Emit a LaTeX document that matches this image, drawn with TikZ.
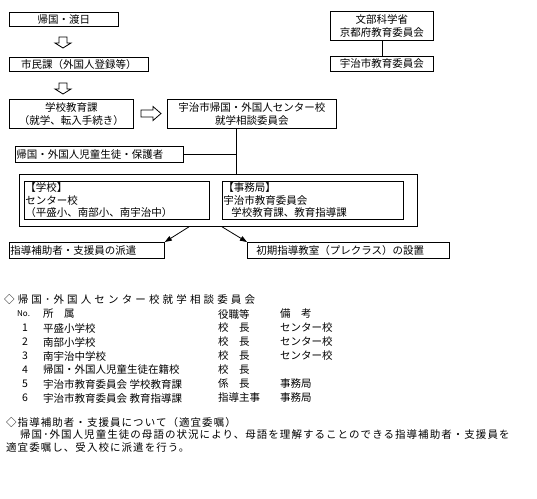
\documentclass[tikz,border=0pt]{standalone}
\usepackage{fontspec}
\setmainfont{Noto Sans CJK JP}
\newfontfamily\jpwide{Noto Sans CJK JP}[LetterSpace=30]
\newfontfamily\jpnote{Noto Sans CJK JP}[LetterSpace=10]
\usepackage{tikz}
\usetikzlibrary{positioning,arrows.meta,calc}
\tikzset{
  node-box/.style={draw,line width=0.8pt,anchor=north west,inner sep=1pt,
    align=center,font=\fontsize{10.5}{12.5}\selectfont},
  node-left/.style={node-box,align=left},
  node-frame/.style={draw,line width=0.8pt,anchor=north west,inner sep=0pt},
  cell/.style={inner sep=0pt,anchor=west,font=\fontsize{10.5}{12.5}\selectfont},
  arrow/.style={-{Triangle[length=7pt,width=5pt]},line width=0.8pt},
  link/.style={line width=0.8pt},
  hollow-arrow/.style={draw,line width=0.8pt,line join=miter},
}

\begin{document}
\begin{tikzpicture}[x=1pt,y=-1pt]
  \useasboundingbox (0,0) rectangle (537,498);
  % flow on the left
  \node[node-box,minimum width=109pt,minimum height=14pt] (b1) at (9,12) {帰国・渡日};
  \node[node-box,minimum width=139pt,minimum height=14pt] (b2) at (9,57) {市民課（外国人登録等）};
  \node[node-box,minimum width=124pt,minimum height=29pt] (b3) at (9,99) {学校教育課\\（就学、転入手続き）};
  \node[node-box,minimum width=169pt,minimum height=29pt] (b4) at (167,99) {宇治市帰国・外国人センター校\\就学相談委員会};
  \draw[hollow-arrow,shift={(63,37)}] (-4,0) -- (4,0) -- (4,6) -- (8,6) -- (0,11) -- (-8,6) -- (-4,6) -- cycle;
  \draw[hollow-arrow,shift={(63,83)}] (-4,0) -- (4,0) -- (4,6) -- (8,6) -- (0,11) -- (-8,6) -- (-4,6) -- cycle;
  \draw[hollow-arrow,shift={(141,113.5)}] (0,-3.5) -- (12,-3.5) -- (12,-7) -- (20,0) -- (12,7) -- (12,3.5) -- (0,3.5) -- cycle;
  % ministry side
  \node[node-box,minimum width=103pt,minimum height=29pt] (m1) at (330,11) {文部科学省\\京都府教育委員会};
  \node[node-box,minimum width=103pt,minimum height=15pt] (m2) at (330,56) {宇治市教育委員会};
  \draw[link] (m1) -- (m2);
  % committee and members
  \node[node-left,text width=166pt,minimum height=16pt] (g) at (15,146) {帰国・外国人児童生徒・保護者};
  \node[node-frame,minimum width=398pt,minimum height=52pt] (outer) at (19,174) {};
  \node[node-left,text width=183pt,minimum height=38pt] (sch) at (24,181)
    {【学校】\\センター校\\（平盛小、南部小、南宇治中）};
  \node[node-left,text width=179pt,minimum height=38pt] (off) at (222,181)
    {【事務局】\\宇治市教育委員会\\\hspace*{8pt}学校教育課、教育指導課};
  \coordinate (j) at (236,154);
  \draw[link] (j |- b4.south) -- (j |- outer.north);
  \draw[link] (g.east |- j) -- (j);
  % outcomes
  \node[node-left,text width=153pt,minimum height=16pt] (o1) at (9,242) {指導補助者・支援員の派遣};
  \node[node-left,text width=200pt,minimum height=16pt] (o2) at (247,242) {\hspace*{8pt}初期指導教室（プレクラス）の設置};
  \draw[arrow] (outer.south -| 189,0) -- (o1.north east);
  \draw[arrow] (outer.south -| 222,0) -- (o2.north west);
  % committee table
  \node[cell,font=\jpwide\fontsize{10.5}{12.5}\selectfont] (t-title) at (4,300) {◇帰国･外国人センター校就学相談委員会};
  \node[cell,font=\fontsize{8}{10}\selectfont] (h-no) at (17,314) {No.};
  \node[cell] (h-org) at (43,314) {所　属};
  \node[cell] (h-job) at (218,314) {役職等};
  \node[cell] (h-rmk) at (280,314) {備　考};
  \foreach \idx/\org/\job/\rmk [count=\i] in {
    1/平盛小学校/校　長/センター校,
    2/南部小学校/校　長/センター校,
    3/南宇治中学校/校　長/センター校,
    4/帰国・外国人児童生徒在籍校/校　長/{},
    5/宇治市教育委員会~学校教育課/係　長/事務局,
    6/宇治市教育委員会~教育指導課/指導主事/事務局}
  {
    \pgfmathsetmacro\ry{328+14*(\i-1)}
    \node[cell,anchor=center] (no-\i) at (25,\ry) {\idx};
    \node[cell] (org-\i) at (43,\ry) {\org};
    \node[cell] (job-\i) at (218,\ry) {\job};
    \node[cell] (rmk-\i) at (280,\ry) {\rmk};
  }
  % note on assistants
  \node[cell,font=\jpnote\fontsize{10.5}{12.5}\selectfont] (n1) at (6,423) {◇指導補助者・支援員について（適宜委嘱）};
  \node[cell,font=\jpnote\fontsize{10.5}{12.5}\selectfont] (n2) at (20,435) {帰国･外国人児童生徒の母語の状況により、母語を理解することのできる指導補助者・支援員を};
  \node[cell,font=\jpnote\fontsize{10.5}{12.5}\selectfont] (n3) at (6,448) {適宜委嘱し、受入校に派遣を行う。};
\end{tikzpicture}
\end{document}
